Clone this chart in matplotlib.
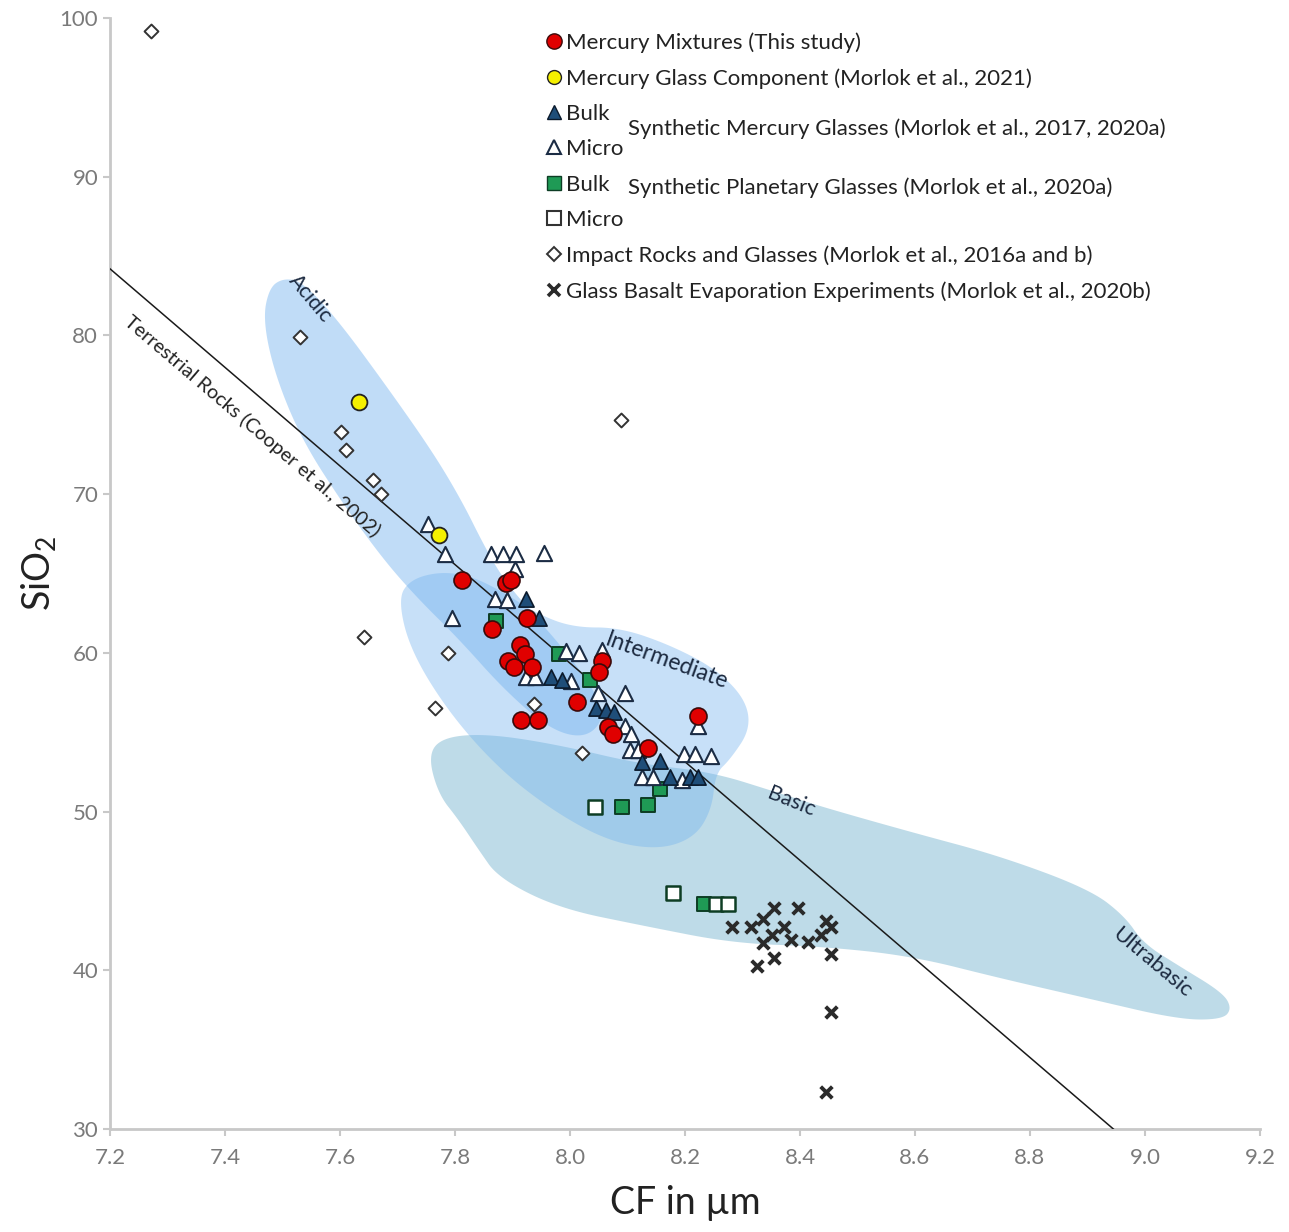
import numpy as np
import matplotlib
matplotlib.use("Agg")
import matplotlib.pyplot as plt
from matplotlib.lines import Line2D
from matplotlib.patches import Polygon

plt.rcParams['font.family'] = ['Lato', 'DejaVu Sans']
plt.rcParams['mathtext.default'] = 'regular'

# ---------------- data ----------------
mix_cf = [7.813, 7.888, 7.897, 7.925, 7.864, 7.913, 7.922, 7.892, 7.902, 7.934,
          8.055, 8.051, 8.013, 7.915, 7.944, 8.067, 8.074, 8.135, 8.223]
mix_si = [64.6, 64.4, 64.6, 62.2, 61.5, 60.5, 59.9, 59.5, 59.1, 59.1,
          59.5, 58.8, 56.9, 55.8, 55.8, 55.3, 54.9, 54.0, 56.0]

glass_cf = [7.633, 7.773]
glass_si = [75.8, 67.4]

smg_bulk_cf = [7.923, 7.946, 7.967, 7.986, 8.046, 8.062, 8.076, 8.126, 8.156, 8.174, 8.209, 8.223]
smg_bulk_si = [63.4, 62.2, 58.5, 58.3, 56.5, 56.4, 56.3, 53.1, 53.2, 52.2, 52.2, 52.2]

smg_micro_cf = [7.753, 7.783, 7.862, 7.883, 7.906, 7.955, 7.904, 7.869, 7.890, 7.794,
                7.993, 8.016, 8.055, 7.923, 7.939, 8.002, 8.095, 8.048, 8.095, 8.107,
                8.104, 8.119, 8.198, 8.217, 8.246, 8.125, 8.144, 8.195, 8.223]
smg_micro_si = [68.1, 66.2, 66.2, 66.2, 66.2, 66.3, 65.3, 63.4, 63.3, 62.2,
                60.1, 60.0, 60.2, 58.5, 58.5, 58.2, 57.5, 57.5, 55.4, 54.9,
                53.9, 53.9, 53.6, 53.6, 53.5, 52.2, 52.2, 52.0, 55.4]

spg_bulk_cf = [7.872, 7.981, 8.034, 8.090, 8.135, 8.156, 8.233]
spg_bulk_si = [62.0, 59.9, 58.3, 50.3, 50.4, 51.4, 44.2]

spg_micro_cf = [8.044, 8.179, 8.254, 8.274]
spg_micro_si = [50.3, 44.9, 44.2, 44.2]

impact_cf = [7.272, 7.531, 7.601, 7.610, 7.657, 7.671, 8.088, 7.641, 7.788, 7.766, 8.021, 7.937]
impact_si = [99.2, 79.9, 73.9, 72.8, 70.9, 70.0, 74.7, 61.0, 60.0, 56.5, 53.7, 56.8]

evap_cf = [8.354, 8.396, 8.335, 8.282, 8.314, 8.372, 8.445, 8.454, 8.352, 8.384,
           8.414, 8.335, 8.436, 8.454, 8.354, 8.326, 8.454, 8.445]
evap_si = [43.9, 43.9, 43.2, 42.7, 42.7, 42.7, 43.1, 42.7, 42.2, 41.9,
           41.8, 41.7, 42.2, 41.0, 40.8, 40.3, 37.4, 32.3]

# terrestrial rocks trend (Cooper et al., 2002)
terr_cf = [7.2, 8.945]
terr_si = [84.2, 30.0]

# compositional fields (outlines, CF / SiO2)
acidic_cf = [7.501, 7.534, 7.596, 7.689, 7.764, 7.813, 7.850, 7.885, 7.937, 7.990, 8.042,
             8.060, 8.025, 7.964, 7.885, 7.806, 7.736, 7.675, 7.605, 7.534, 7.487, 7.466, 7.477]
acidic_si = [83.6, 83.4, 81.0, 76.4, 72.5, 69.5, 66.8, 64.6, 62.4, 60.2, 57.7,
             55.8, 54.6, 55.2, 57.7, 60.9, 63.4, 65.9, 69.4, 73.4, 77.5, 81.0, 83.0]

inter_cf = [7.701, 7.722, 7.771, 7.823, 7.876, 7.946, 8.007, 8.086, 8.174, 8.253, 8.305,
            8.314, 8.279, 8.253, 8.247, 8.218, 8.156, 8.069, 7.972, 7.876, 7.788, 7.722]
inter_si = [63.4, 64.6, 65.1, 64.9, 64.0, 62.4, 61.6, 61.6, 60.5, 59.0, 57.1,
            55.2, 53.3, 52.4, 50.2, 48.4, 47.6, 48.1, 50.0, 52.7, 56.3, 60.2]

basic_cf = [7.753, 7.780, 7.858, 7.981, 8.121, 8.246, 8.361, 8.438, 8.594, 8.748, 8.904,
            8.965, 8.997, 9.058, 9.135, 9.151, 9.135, 9.058, 8.904, 8.748, 8.594, 8.438,
            8.284, 8.128, 7.981, 7.876, 7.841, 7.806, 7.771]
basic_si = [53.6, 54.7, 54.9, 54.2, 53.0, 52.5, 51.2, 50.3, 48.7, 47.2, 45.1,
            43.4, 41.7, 40.3, 38.6, 37.6, 36.9, 36.9, 38.2, 39.5, 40.9, 41.5,
            41.7, 42.8, 43.9, 45.8, 47.6, 49.5, 51.1]

legend_labels = ["Mercury Mixtures (This study)",
                 "Mercury Glass Component (Morlok et al., 2021)",
                 "Bulk", "Micro", "Bulk", "Micro",
                 "Impact Rocks and Glasses (Morlok et al., 2016a and b)",
                 "Glass Basalt Evaporation Experiments (Morlok et al., 2020b)"]
group_labels = ["Synthetic Mercury Glasses (Morlok et al., 2017, 2020a)",
                "Synthetic Planetary Glasses (Morlok et al., 2020a)"]


def chaikin(xs, ys, n=4):
    pts = np.column_stack([xs, ys]).astype(float)
    for _ in range(n):
        nxt = np.roll(pts, -1, axis=0)
        q = 0.75 * pts + 0.25 * nxt
        r = 0.25 * pts + 0.75 * nxt
        pts = np.empty((2 * len(q), 2))
        pts[0::2] = q
        pts[1::2] = r
    return pts


fig = plt.figure(figsize=(12.89, 12.32), dpi=100)
ax = fig.add_axes([0.0853, 0.0836, 0.8922, 0.9018])
ax.set_xlim(7.2, 9.2)
ax.set_ylim(30, 100)

# fields
ax.add_patch(Polygon(chaikin(basic_cf, basic_si), closed=True, facecolor='#84bbd3',
                     alpha=0.52, edgecolor='none', zorder=1))
ax.add_patch(Polygon(chaikin(inter_cf, inter_si), closed=True, facecolor='#74b3ef',
                     alpha=0.40, edgecolor='none', zorder=2))
ax.add_patch(Polygon(chaikin(acidic_cf, acidic_si), closed=True, facecolor='#74b3ef',
                     alpha=0.45, edgecolor='none', zorder=3))

# terrestrial line
ax.plot(terr_cf, terr_si, color='#1a1a1a', lw=1.1, zorder=4)

ax.scatter(impact_cf, impact_si, marker='D', s=50, facecolor='white', edgecolor='#333333',
           linewidth=1.4, zorder=5)
ax.scatter(evap_cf, evap_si, marker='x', s=70, color='#2a2a2a', linewidth=2.8, zorder=5)
ax.scatter(spg_bulk_cf, spg_bulk_si, marker='s', s=115, facecolor='#1f9a55', edgecolor='#0d3d24',
           linewidth=1.4, zorder=6)
ax.scatter(spg_micro_cf, spg_micro_si, marker='s', s=115, facecolor='white', edgecolor='#0d3d24',
           linewidth=1.8, zorder=6)
ax.scatter(smg_micro_cf, smg_micro_si, marker='^', s=120, facecolor='white', edgecolor='#1b2c44',
           linewidth=1.5, zorder=7)
ax.scatter(smg_bulk_cf, smg_bulk_si, marker='^', s=120, facecolor='#1f4e79', edgecolor='#0b1a2c',
           linewidth=1.2, zorder=7)
ax.scatter(glass_cf, glass_si, marker='o', s=130, facecolor='#f5f000', edgecolor='#222222',
           linewidth=1.3, zorder=8)
ax.scatter(mix_cf, mix_si, marker='o', s=150, facecolor='#e00000', edgecolor='#3a0a0a',
           linewidth=1.2, zorder=8)

# field labels
tc = '#1c2a40'
ax.text(7.549, 82.3, "Acidic", rotation=-50, rotation_mode='anchor', ha='center', va='center',
        fontsize=15, color=tc, zorder=9)
ax.text(7.447, 74.3, "Terrestrial Rocks (Cooper et al., 2002)", rotation=-40.5,
        rotation_mode='anchor', ha='center', va='center', fontsize=14.3, color='#222222', zorder=9)
ax.text(8.168, 59.5, "Intermediate", rotation=-20, rotation_mode='anchor', ha='center',
        va='center', fontsize=16.5, color=tc, zorder=9)
ax.text(8.384, 50.6, "Basic", rotation=-22, rotation_mode='anchor', ha='center', va='center',
        fontsize=15.5, color=tc, zorder=9)
ax.text(9.012, 40.5, "Ultrabasic", rotation=-40, rotation_mode='anchor', ha='center',
        va='center', fontsize=15.8, color=tc, zorder=9)

# axes styling
for side in ['top', 'right']:
    ax.spines[side].set_visible(False)
for side in ['left', 'bottom']:
    ax.spines[side].set_color('#c8c8c8')
    ax.spines[side].set_linewidth(2)
ax.set_xticks(np.arange(7.2, 9.21, 0.2))
ax.set_xticklabels([f"{v:.1f}" for v in np.arange(7.2, 9.21, 0.2)])
ax.set_yticks(np.arange(30, 101, 10))
ax.tick_params(axis='both', colors='#c8c8c8', labelcolor='#7a7a7a', labelsize=16,
               length=5, width=1.5)
ax.tick_params(axis='x', pad=9)
ax.set_xlabel("CF in µm", fontsize=27, color='#222222', labelpad=12)
ax.set_ylabel("SiO$_2$", fontsize=27, color='#222222')
ax.yaxis.set_label_coords(-0.045, 0.5)
ax.patch.set_alpha(0)

# legend
handles = [
    Line2D([], [], ls='none', marker='o', ms=11, mfc='#e00000', mec='#3a0a0a'),
    Line2D([], [], ls='none', marker='o', ms=10, mfc='#f5f000', mec='#222222'),
    Line2D([], [], ls='none', marker='^', ms=10, mfc='#1f4e79', mec='#0b1a2c'),
    Line2D([], [], ls='none', marker='^', ms=10, mfc='white', mec='#1b2c44', mew=1.5),
    Line2D([], [], ls='none', marker='s', ms=10, mfc='#1f9a55', mec='#0d3d24'),
    Line2D([], [], ls='none', marker='s', ms=10, mfc='white', mec='#333333', mew=1.5),
    Line2D([], [], ls='none', marker='D', ms=7, mfc='white', mec='#333333', mew=1.4),
    Line2D([], [], ls='none', marker='x', ms=8, color='#2a2a2a', mew=2.6),
]
leg = ax.legend(handles, legend_labels, loc='upper left', bbox_to_anchor=(0.4135, 0.983),
                bbox_transform=fig.transFigure, frameon=False, fontsize=16,
                labelspacing=0.69, handletextpad=0.1, handlelength=0.9, borderpad=0)
for t in leg.get_texts():
    t.set_color('#222222')
fig.text(0.487, 0.8953, group_labels[0], fontsize=16, color='#222222', va='center', ha='left')
fig.text(0.487, 0.8474, group_labels[1], fontsize=16, color='#222222', va='center', ha='left')

fig.savefig("out.png", dpi=100)
